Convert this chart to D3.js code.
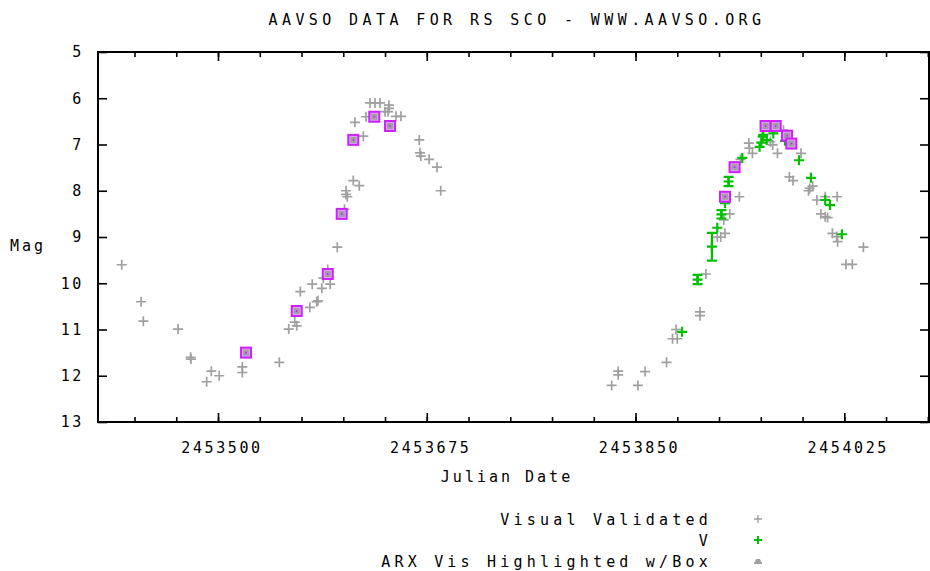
<!DOCTYPE html>
<html>
<head>
<meta charset="utf-8">
<script src="https://cdn.jsdelivr.net/npm/d3@7"></script>
<style>
  body { margin: 0; background: #fff; }
  text { font-family: "DejaVu Sans Mono", monospace; font-size: 15px; fill: #000; }
</style>
</head>
<body>
<svg id="chart"></svg>
<script>
// chart size
const W = 930, H = 571;
const margin = {top: 52, right: 1, bottom: 149, left: 98},
    width = W - margin.left - margin.right,
    height = H - margin.top - margin.bottom;

// Visual Validated (gray +)
var visJD = [2453419.3, 2453435.5, 2453437.4, 2453466.5, 2453477, 2453477.3, 2453490.5, 2453494.4, 2453501,
  2453520.4, 2453520.4, 2453551.4, 2453559.3, 2453564.3, 2453566, 2453569, 2453577, 2453579, 2453582.7,
  2453583.8, 2453587, 2453588.3, 2453592, 2453594, 2453600, 2453606, 2453607.3, 2453607.3, 2453608.4,
  2453613.4, 2453618.4, 2453614.8, 2453621.8, 2453624, 2453627.4, 2453631.6, 2453635.8, 2453643.3,
  2453643.3, 2453642.6, 2453640, 2453649.2, 2453653.4, 2453668.7, 2453669.3, 2453670, 2453677, 2453683.6,
  2453686.7,
  2453830, 2453835.5, 2453835.5, 2453852, 2453858, 2453876, 2453881, 2453885, 2453884, 2453904, 2453904,
  2453909, 2453918.5, 2453921.4, 2453925, 2453924, 2453929, 2453937, 2453938, 2453948, 2453945, 2453945.4,
  2453963, 2453965, 2453969, 2453974, 2453988.7, 2453979, 2453982, 2453996, 2453995, 2453998.5, 2454002,
  2454009, 2454019, 2454005.4, 2454009, 2454011, 2454015, 2454018.6, 2454019.4, 2454041, 2454026.4, 2454031.7];
var visMag = [9.6, 10.4, 10.82, 10.99, 11.6, 11.64, 12.13, 11.9, 12.0,
  11.81, 11.93, 11.71, 10.99, 10.84, 10.92, 10.18, 10.52, 10.02, 10.4,
  10.38, 10.11, 9.89, 9.7, 10.02, 9.22, 8.4, 8.0, 8.08, 8.13,
  7.78, 7.89, 6.52, 6.82, 6.4, 6.1, 6.1, 6.1, 6.15,
  6.22, 6.29, 6.29, 6.39, 6.39, 6.9, 7.18, 7.25, 7.32, 7.49,
  8.0,
  12.21, 11.9, 11.98, 12.21, 11.91, 11.71, 11.2, 11.2, 11.0, 10.62, 10.7,
  9.8, 9.0, 9.0, 8.92, 8.63, 8.5, 8.13, 7.32, 7.19, 6.97, 7.08,
  6.94, 7.01, 7.19, 6.69, 7.19, 7.7, 7.78, 7.95, 8.0, 7.9, 8.2,
  8.13, 8.13, 8.5, 8.56, 8.58, 8.92, 8.99, 9.1, 9.22, 9.59, 9.59];

// V (green +, some with error bars)
var vJD = [2453889, 2453902, 2453914, 2453918.5, 2453922, 2453925, 2453928, 2453939.5, 2453954, 2453955.4,
  2453956.6, 2453957, 2453960, 2453965.5, 2453975.3, 2453987, 2453997, 2454009, 2454013, 2454023];
var vMag = [11.05, 9.92, 9.21, 8.8, 8.51, 8.27, 7.8, 7.29, 7.05, 6.96,
  6.83, 6.79, 6.9, 6.76, 6.92, 7.34, 7.72, 8.2, 8.31, 8.94];
var vErr = [0, 0.1, 0.3, 0, 0.09, 0, 0.1, 0, 0, 0,
  0, 0, 0, 0, 0, 0, 0, 0, 0, 0];

// ARX Vis Highlighted w/Box
var arxJD = [2453523.5, 2453566, 2453592, 2453603.7, 2453613.4, 2453631, 2453644.2,
  2453925, 2453933, 2453959, 2453967.5, 2453977, 2453980.6];
var arxMag = [11.5, 10.6, 9.8, 8.5, 6.9, 6.4, 6.6,
  8.13, 7.49, 6.6, 6.6, 6.81, 6.98];

var xMajor = [2453500, 2453675, 2453850, 2454025];
var xMinor = d3.range(2453430, 2454100, 35);
var yTicks = [5, 6, 7, 8, 9, 10, 11, 12, 13];
var legendLabels = ["Visual Validated", "V", "ARX Vis Highlighted w/Box"];

var gray = "#a0a0a0", green = "#00c000", magenta = "#cc22ff";

var xScale = d3.scaleLinear().domain([2453399.4, 2454096]).range([0, width]),
    yScale = d3.scaleLinear().domain([5, 13]).range([0, height]);

var svg0 = d3.select("#chart").attr("width", W).attr("height", H);
var svg = svg0.append("g")
    .attr("transform", "translate(" + margin.left + "," + margin.top + ")");

// title
svg0.append("text").attr("x", 517).attr("y", 25).attr("text-anchor", "middle")
    .style("letter-spacing", "4.4px").text("AAVSO DATA FOR RS SCO - WWW.AAVSO.ORG");

// ticks (gnuplot style: inward, on all four sides)
function tickAxis(axis) {
  return function(g) {
    g.call(axis);
    g.select(".domain").remove();
    g.selectAll(".tick line").attr("stroke", "#000").attr("stroke-width", 1.6);
    g.selectAll(".tick text").remove();
  };
}
svg.append("g").attr("transform", "translate(0," + height + ")")
  .call(tickAxis(d3.axisBottom(xScale).tickValues(xMinor).tickSize(-5)));
svg.append("g").call(tickAxis(d3.axisTop(xScale).tickValues(xMinor).tickSize(-5)));
svg.append("g").attr("transform", "translate(0," + height + ")")
  .call(tickAxis(d3.axisBottom(xScale).tickValues(xMajor).tickSize(-9)));
svg.append("g").call(tickAxis(d3.axisTop(xScale).tickValues(xMajor).tickSize(-9)));
svg.append("g").call(tickAxis(d3.axisLeft(yScale).tickValues(yTicks).tickSize(-9)));
svg.append("g").attr("transform", "translate(" + width + ",0)")
  .call(tickAxis(d3.axisRight(yScale).tickValues(yTicks).tickSize(-9)));

// tick labels
svg.selectAll(".xlab").data(xMajor).enter().append("text")
  .attr("class", "xlab")
  .attr("x", function(d) { return xScale(d) + 4; })
  .attr("y", height + 31)
  .attr("text-anchor", "middle")
  .style("letter-spacing", "2.6px")
  .text(function(d) { return d3.format("d")(d); });
svg.selectAll(".ylab").data(yTicks).enter().append("text")
  .attr("class", "ylab")
  .attr("x", -14)
  .attr("y", function(d) { return yScale(d); })
  .attr("dy", "0.35em")
  .attr("text-anchor", "end")
  .style("letter-spacing", "2.6px")
  .text(function(d) { return d; });

// border
svg.append("rect").attr("width", width).attr("height", height)
  .attr("fill", "none").attr("stroke", "#000").attr("stroke-width", 2);

// axis titles
svg0.append("text").attr("x", 507).attr("y", 482).attr("text-anchor", "middle")
  .style("letter-spacing", "3px").text("Julian Date");
svg0.append("text").attr("x", 10).attr("y", 251).style("letter-spacing", "3px").text("Mag");

function plusPath(s) { return "M" + (-s) + ",0H" + s + "M0," + (-s) + "V" + s; }

// visual validated
var vis = d3.zip(visJD, visMag);
svg.selectAll(".vis").data(vis).enter().append("path")
  .attr("class", "vis")
  .attr("transform", function(d) { return "translate(" + xScale(d[0]) + "," + yScale(d[1]) + ")"; })
  .attr("d", plusPath(5)).attr("stroke", gray).attr("stroke-width", 1.7).attr("fill", "none");

// V with error bars
var vdata = vJD.map(function(d, i) { return {jd: d, mag: vMag[i], err: vErr[i]}; });
var vg = svg.selectAll(".vpt").data(vdata).enter().append("g")
  .attr("class", "vpt")
  .attr("transform", function(d) { return "translate(" + xScale(d.jd) + "," + yScale(d.mag) + ")"; });
vg.append("path").attr("d", plusPath(5)).attr("stroke", green).attr("stroke-width", 2.2).attr("fill", "none");
vg.filter(function(d) { return d.err > 0; }).append("path")
  .attr("d", function(d) {
    var h = yScale(d.mag + d.err) - yScale(d.mag);
    return "M0," + (-h) + "V" + h + "M-5," + (-h) + "H5M-5," + h + "H5";
  })
  .attr("stroke", green).attr("stroke-width", 2.2).attr("fill", "none");

// ARX boxes
var arx = d3.zip(arxJD, arxMag);
var ag = svg.selectAll(".arx").data(arx).enter().append("g")
  .attr("class", "arx")
  .attr("transform", function(d) { return "translate(" + xScale(d[0]) + "," + yScale(d[1]) + ")"; });
ag.append("rect").attr("x", -5).attr("y", -5).attr("width", 10).attr("height", 10)
  .attr("fill", "#e0a0ff").attr("stroke", magenta).attr("stroke-width", 2);
ag.append("rect").attr("x", -3).attr("y", -3).attr("width", 6).attr("height", 6).attr("fill", gray);
ag.append("circle").attr("r", 0.9).attr("fill", magenta);

// legend
var lg = svg0.selectAll(".leg").data(legendLabels).enter().append("g")
  .attr("class", "leg")
  .attr("transform", function(d, i) { return "translate(0," + (519 + i * 21) + ")"; });
lg.append("text").attr("x", 712).attr("y", 6).attr("text-anchor", "end")
  .style("letter-spacing", "4.2px").text(function(d) { return d; });
lg.filter(function(d, i) { return i == 0; }).append("path")
  .attr("transform", "translate(758,0)").attr("d", plusPath(4)).attr("stroke", gray).attr("stroke-width", 1.4);
lg.filter(function(d, i) { return i == 1; }).append("path")
  .attr("transform", "translate(758,0)").attr("d", plusPath(4)).attr("stroke", green).attr("stroke-width", 2);
lg.filter(function(d, i) { return i == 2; }).append("path")
  .attr("transform", "translate(758,0)").attr("d", "M-2,-2L2,-2L3,1H4V3H-4V1H-3Z").attr("fill", gray);
</script>
</body>
</html>
